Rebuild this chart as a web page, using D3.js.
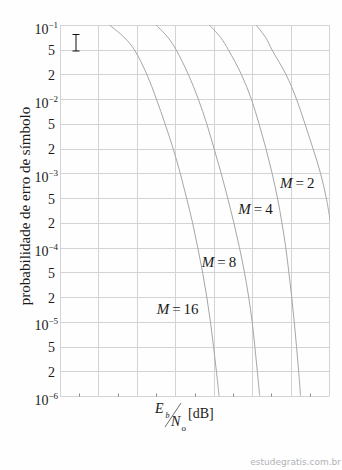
<!DOCTYPE html>
<html>
<head>
<meta charset="utf-8">
<script src="https://cdn.jsdelivr.net/npm/d3@7/dist/d3.min.js"></script>
<style>
  html, body { margin: 0; padding: 0; background: #fff; }
  svg { display: block; }
</style>
</head>
<body>
<script>
// ---- data ----
const categories = ["16", "8", "4", "2"];           // M values
const peLevels = [1e-1, 5e-2, 2e-2, 1e-2, 5e-3, 2e-3, 1e-3, 5e-4, 2e-4, 1e-4, 5e-5, 2e-5, 1e-5, 5e-6, 2e-6, 1e-6];
const pe_curve = [1e-1, 7e-2, 5e-2, 2e-2, 1e-2, 5e-3, 2e-3, 1e-3, 5e-4, 2e-4, 1e-4, 5e-5, 2e-5, 1e-5, 5e-6, 2e-6, 1e-6];
const ebn0_M16 = [2.57, 3.36, 3.87, 4.52, 5.02, 5.47, 5.89, 6.26, 6.59, 6.90, 7.17, 7.42, 7.64, 7.83, 7.99, 8.14, 8.28];
const ebn0_M8  = [5.00, 5.63, 6.04, 6.68, 7.20, 7.64, 8.02, 8.39, 8.73, 9.05, 9.34, 9.60, 9.82, 10.00, 10.14, 10.27, 10.39];
const ebn0_M4  = [7.77, 8.37, 8.76, 9.44, 9.96, 10.36, 10.72, 11.04, 11.32, 11.55, 11.75, 11.91, 12.06, 12.19, 12.31, 12.42, 12.52];
const ebn0_M2  = [10.20, 10.71, 11.03, 11.76, 12.31, 12.75, 13.17, 13.56, 13.86, 14.08];
const pe_M2    = [1e-1, 7e-2, 5e-2, 2e-2, 1e-2, 5e-3, 2e-3, 1e-3, 5e-4, 2e-4];
const labelEbn0 = [5.03, 7.38, 9.28, 11.45];          // label anchors (dB)
const labelPe   = [1.24e-5, 5.8e-5, 2.77e-4, 6.6e-4]; // label anchors (Pe)
const yTickMantissa = ["10","5","2","10","5","2","10","5","2","10","5","2","10","5","2","10"];
const yTickExponent = ["\u22121","","","\u22122","","","\u22123","","","\u22124","","","\u22125","","","\u22126"];
const xGrid = [0, 2, 4, 6, 8, 10, 12, 14];
const xMinor = [1, 3, 5, 7, 9, 11, 13];

const series = [
  { m: categories[0], x: ebn0_M16, p: pe_curve },
  { m: categories[1], x: ebn0_M8,  p: pe_curve },
  { m: categories[2], x: ebn0_M4,  p: pe_curve },
  { m: categories[3], x: ebn0_M2,  p: pe_M2 }
];

// ---- layout ----
const W = 342, H = 470;
const L = 60, R = 329, T = 25, B = 396;
const GRID = "#d2d2d7", CURVE = "#a6a6a6", TXT = "#1a1a1a";
const SERIF = "'Liberation Serif', 'Times New Roman', Times, serif";

const svg = d3.select("body").append("svg").attr("width", W).attr("height", H);
svg.append("rect").attr("width", W).attr("height", H).attr("fill", "#fdfefd");

const x = d3.scaleLinear().domain([0, 14]).range([L, R]);
const logLevels = peLevels.map(v => Math.log10(v));
const y0 = d3.scaleLinear()
  .domain(logLevels)
  .range(peLevels.map((v, i) => T + i * (B - T) / (peLevels.length - 1)));
const y = p => y0(Math.log10(p));

// grid
const g = svg.append("g");
g.selectAll("line.h").data(peLevels).join("line")
  .attr("x1", L).attr("x2", R)
  .attr("y1", d => Math.round(y(d)) + 0.5).attr("y2", d => Math.round(y(d)) + 0.5)
  .attr("stroke", GRID).attr("stroke-width", 1);
g.selectAll("line.v").data(xGrid).join("line")
  .attr("x1", d => Math.round(x(d)) + 0.5).attr("x2", d => Math.round(x(d)) + 0.5)
  .attr("y1", T).attr("y2", B + 0.5)
  .attr("stroke", GRID).attr("stroke-width", 1);
// minor ticks on bottom axis
g.selectAll("line.t").data(xMinor).join("line")
  .attr("x1", d => Math.round(x(d)) + 0.5).attr("x2", d => Math.round(x(d)) + 0.5)
  .attr("y1", B - 2.5).attr("y2", B + 0.5)
  .attr("stroke", "#8a8a8a").attr("stroke-width", 1);

// y tick labels
const yl = svg.append("g").attr("font-family", SERIF).attr("fill", TXT);
peLevels.forEach((v, i) => {
  const yy = y(v);
  if (yTickExponent[i]) {
    const t = yl.append("text").attr("x", 58).attr("y", yy + 8.5)
      .attr("text-anchor", "end").attr("font-size", 14);
    t.append("tspan").text(yTickMantissa[i]);
    t.append("tspan").attr("dy", -6).attr("font-size", 9).text(yTickExponent[i]);
  } else {
    yl.append("text").attr("x", 55).attr("y", yy + 5.5)
      .attr("text-anchor", "end").attr("font-size", 14).text(yTickMantissa[i]);
  }
});

// y axis title
svg.append("text")
  .attr("transform", "translate(30,206) rotate(-90)")
  .attr("text-anchor", "middle").attr("font-family", SERIF)
  .attr("font-size", 15).attr("fill", TXT)
  .text("probabilidade de erro de símbolo");

// curves
svg.append("clipPath").attr("id", "clip")
  .append("rect").attr("x", L).attr("y", T).attr("width", R - L + 1).attr("height", B - T + 1);
const line = d3.line().x(d => x(d[0])).y(d => y(d[1])).curve(d3.curveCatmullRom.alpha(0.5));
svg.append("g").attr("clip-path", "url(#clip)")
  .selectAll("path").data(series).join("path")
  .attr("d", s => line(s.x.map((v, i) => [v, s.p[i]])))
  .attr("fill", "none").attr("stroke", CURVE).attr("stroke-width", 1);

// curve labels
const lab = svg.append("g").attr("font-family", SERIF).attr("font-size", 15).attr("fill", TXT);
series.forEach((s, i) => {
  const t = lab.append("text").attr("x", x(labelEbn0[i])).attr("y", y(labelPe[i]));
  t.append("tspan").attr("font-style", "italic").text("M");
  t.append("tspan").text("\u2009=\u2009" + s.m);
});

// x axis title: Eb / No [dB]
const xt = svg.append("g").attr("font-family", SERIF).attr("fill", TXT);
xt.append("text").attr("x", 155).attr("y", 413).attr("font-size", 14).attr("font-style", "italic").text("E");
xt.append("text").attr("x", 165.5).attr("y", 418).attr("font-size", 8).attr("font-style", "italic").text("b");
xt.append("line").attr("x1", 165).attr("y1", 427).attr("x2", 181).attr("y2", 403)
  .attr("stroke", "#444").attr("stroke-width", 0.8);
xt.append("text").attr("x", 171).attr("y", 426).attr("font-size", 14).attr("font-style", "italic").text("N");
xt.append("text").attr("x", 181.5).attr("y", 431).attr("font-size", 9).text("o");
xt.append("text").attr("x", 188).attr("y", 418).attr("font-size", 14).text("[dB]");

// I-beam cursor visible in the picture
svg.append("path")
  .attr("d", "M72.5,34.5H79.5M76,34.5V51M72.5,51H79.5")
  .attr("stroke", "#111").attr("stroke-width", 1).attr("fill", "none");

// watermark
svg.append("text").attr("x", 341).attr("y", 465).attr("text-anchor", "end")
  .attr("font-family", "'DejaVu Sans', Verdana, sans-serif").attr("font-size", 9)
  .attr("fill", "#b2b2ba").text("estudegratis.com.br");
</script>
</body>
</html>
